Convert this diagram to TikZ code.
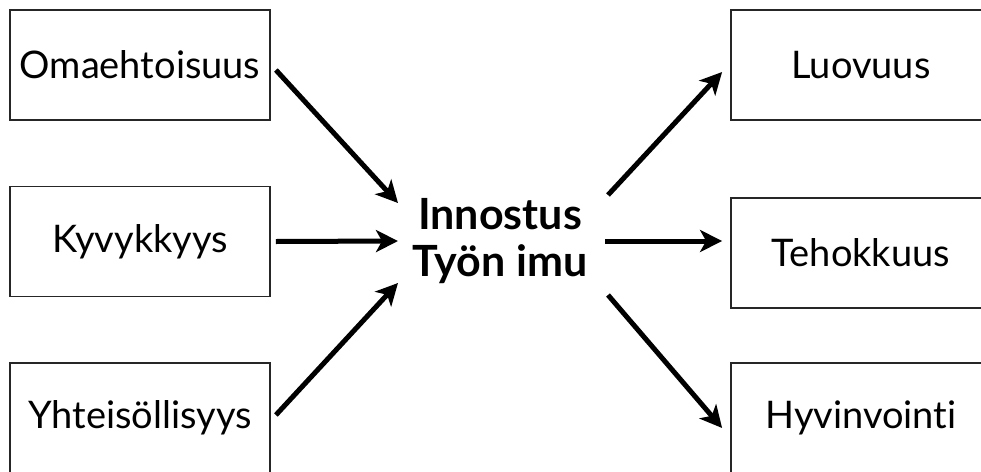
\documentclass[tikz,border=0pt]{standalone}
\usepackage{fontspec}
\setmainfont[Ligatures={NoCommon}]{Lato}
\usetikzlibrary{arrows.meta}
\begin{document}
\begin{tikzpicture}[x=1pt,y=-1pt,
  box/.style={draw=black!85,line width=1.8pt,minimum width=260pt,minimum height=110pt,inner sep=0pt,
    font=\fontsize{38}{44}\selectfont},
  arr/.style={line width=5pt,-{Stealth[length=22pt,width=22pt,inset=6pt]}},
  hub/.style={minimum width=210pt,minimum height=120pt,inner sep=0pt,align=center,
    font=\fontsize{43}{47}\selectfont\bfseries}]
\useasboundingbox (0,0) rectangle (981,471);
\clip (0,0) rectangle (981,471);
\fill[white] (0,0) rectangle (981,471);
\node[box] (L1) at (140,65) {Omaehtoisuus};
\node[box] (L2) at (140,241.5) {Kyvykkyys};
\node[box] (L3) at (140,418) {Yhteisöllisyys};
\node[box] (R1) at (861,65) {Luovuus};
\node[box] (R2) at (861,253) {Tehokkuus};
\node[box] (R3) at (861,418) {Hyvinvointi};
\node[hub] (C) at (500,241) {Innostus\\Työn imu};
\draw[arr] ([shift={(5,5)}]L1.east) -- ([shift={(-102,-38)}]C.center);
\draw[arr] ([xshift=5]L2.east) -- ([shift={(-102,0)}]C.center);
\draw[arr] ([shift={(5,-3)}]L3.east) -- ([shift={(-102,42)}]C.center);
\draw[arr] ([shift={(108,-46)}]C.center) -- ([shift={(-8,7)}]R1.west);
\draw[arr] ([shift={(105,0)}]C.center) -- ([shift={(-8,-12)}]R2.west);
\draw[arr] ([shift={(108,54)}]C.center) -- ([shift={(-8,10)}]R3.west);
\end{tikzpicture}
\end{document}
